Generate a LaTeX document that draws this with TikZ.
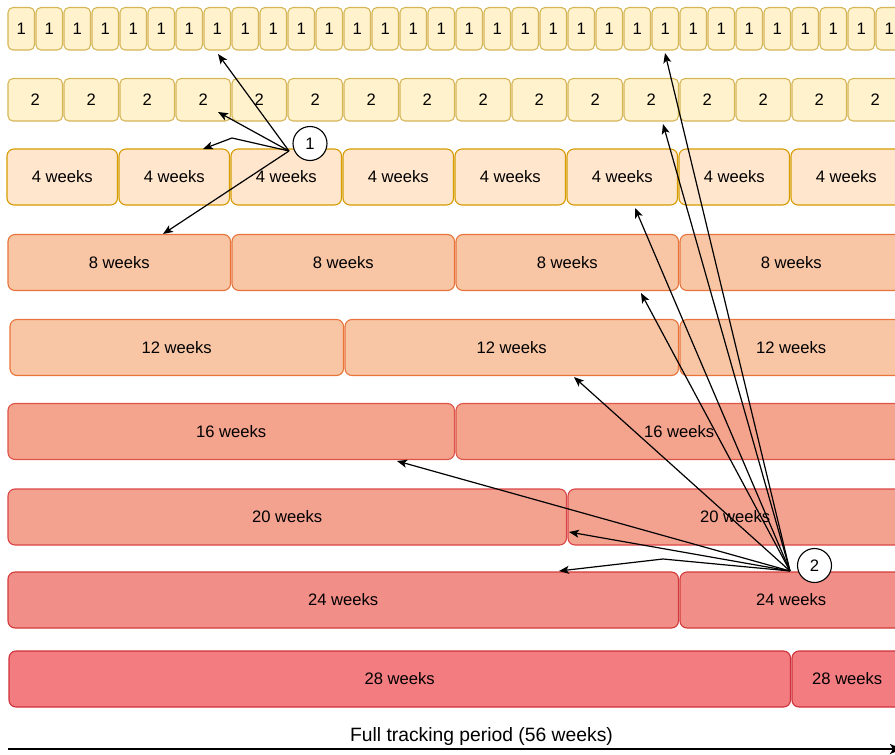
\documentclass[tikz,border=0pt]{standalone}
\usepackage{fontspec}
\setmainfont{Liberation Sans}
\usetikzlibrary{arrows.meta}
\definecolor{fA}{HTML}{FFF2CC}\definecolor{dA}{HTML}{D6B656}
\definecolor{fB}{HTML}{FFE6CC}\definecolor{dB}{HTML}{D79B00}
\definecolor{fC}{HTML}{F9C6A5}\definecolor{dC}{HTML}{E8743B}
\definecolor{fD}{HTML}{F4A38C}\definecolor{dD}{HTML}{DD5448}
\definecolor{fE}{HTML}{F4A290}\definecolor{dE}{HTML}{D94545}
\definecolor{fF}{HTML}{F28E88}\definecolor{dF}{HTML}{D23B3B}
\definecolor{fG}{HTML}{F27C7F}\definecolor{dG}{HTML}{D0313B}
\newcommand\myrow[8]{%
  \foreach \i in {0,...,#6}{%
    \pgfmathsetmacro\xa{#5+\i*#4}%
    \pgfmathsetmacro\xb{min(#5+(\i+1)*#4,904)}%
    \node[#8, minimum width={\xb-\xa-1.5}, minimum height=#3] (#1\i) at ({(\xa+\xb-1.5)/2},{#2+#3/2}) {#7};
  }}
\begin{document}
\begin{tikzpicture}[x=1pt,y=-1pt,
  cell/.style={draw, line width=1.1pt, inner sep=0pt, outer sep=0pt, font=\fontsize{16.6}{20}\selectfont},
  smallcell/.style={cell, rounded corners=5pt},
  bigcell/.style={cell, rounded corners=7pt},
  ptr/.style={line width=1.2pt, -{Stealth[length=10pt,width=8pt,inset=2.5pt]}},
  numcircle/.style={circle, draw, fill=white, line width=1.1pt, minimum size=34pt, inner sep=0pt, font=\fontsize{16.6}{20}\selectfont}]
\useasboundingbox (0,0) rectangle (895,755);
\clip (0,0) rectangle (895,755);
\myrow{ra}{7.5}{42.5}{28}{8}{31}{1}{smallcell, fill=fA, draw=dA}
\myrow{rb}{78.5}{42.5}{56}{8}{15}{2}{smallcell, fill=fA, draw=dA}
\myrow{rc}{149}{56}{112}{7}{7}{4 weeks}{bigcell, fill=fB, draw=dB}
\myrow{rd}{234.5}{56}{224}{8}{3}{8 weeks}{bigcell, fill=fC, draw=dC}
\myrow{re}{319.5}{56}{335}{10}{2}{12 weeks}{bigcell, fill=fC, draw=dC}
\myrow{rf}{403.5}{56}{448}{8}{1}{16 weeks}{bigcell, fill=fD, draw=dD}
\myrow{rg}{489}{56}{560}{8}{1}{20 weeks}{bigcell, fill=fE, draw=dE}
\myrow{rh}{572}{56}{672}{8}{1}{24 weeks}{bigcell, fill=fF, draw=dF}
\myrow{ri}{651}{56}{783}{9}{1}{28 weeks}{bigcell, fill=fG, draw=dG}
% label and axis
\node[font=\fontsize{19.3}{22}\selectfont] (lbl) at (481.5,737) {Full tracking period (56 weeks)};
\coordinate (axs) at (8,749);
\coordinate (axe) at (902,749);
\draw[line width=2.4pt, -{Stealth[length=12pt,width=10pt,inset=3pt]}] (axs) -- (axe);
% arrow sources and tips
\coordinate (o1) at (289,151);
\coordinate (o2) at (790,571);
\coordinate (t1a) at (218,54);
\coordinate (t1b) at (218,112);
\coordinate (k1c) at (232,138);
\coordinate (t1c) at (203,149);
\coordinate (t1d) at (163,234);
\coordinate (t2a) at (665,53);
\coordinate (t2b) at (663,124);
\coordinate (t2c) at (635,208);
\coordinate (t2d) at (641,293);
\coordinate (t2e) at (574,377);
\coordinate (t2f) at (397,461);
\coordinate (t2g) at (569,532);
\coordinate (k2h) at (663,559);
\coordinate (t2h) at (559,571);
\draw[ptr] (o1) -- (t1a);
\draw[ptr] (o1) -- (t1b);
\draw[ptr] (o1) -- (k1c) -- (t1c);
\draw[ptr] (o1) -- (t1d);
\draw[ptr] (o2) -- (t2a);
\draw[ptr] (o2) -- (t2b);
\draw[ptr] (o2) -- (t2c);
\draw[ptr] (o2) -- (t2d);
\draw[ptr] (o2) -- (t2e);
\draw[ptr] (o2) -- (t2f);
\draw[ptr] (o2) -- (t2g);
\draw[ptr] (o2) -- (k2h) -- (t2h);
\node[numcircle] (c1) at (310,143.5) {1};
\node[numcircle] (c2) at (814.5,565.5) {2};
\end{tikzpicture}
\end{document}
